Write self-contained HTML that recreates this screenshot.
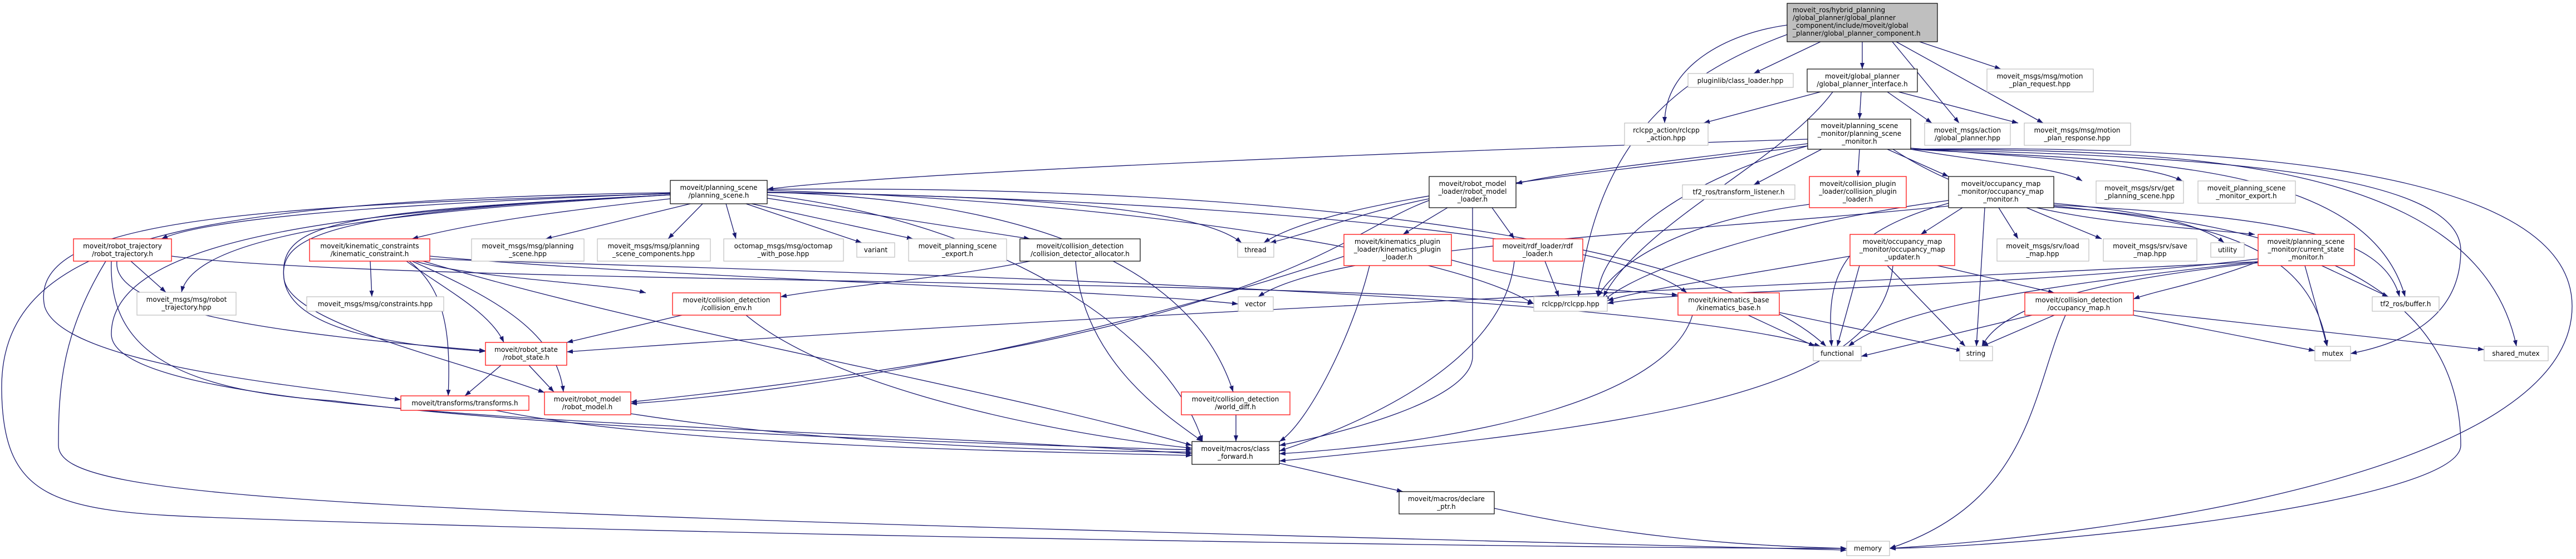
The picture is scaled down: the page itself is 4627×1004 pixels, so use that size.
<!DOCTYPE html>
<html><head><meta charset="utf-8">
<style>
html,body{margin:0;padding:0;background:#fff;}
svg{display:block;}
text{font-family:"DejaVu Sans","Liberation Sans",sans-serif;font-size:12px;fill:#000;}
.e{fill:none;stroke:#191970;stroke-width:1.3;marker-end:url(#a);}
.g{fill:#fff;stroke:#bfbfbf;stroke-width:1.2;}
.b{fill:#fff;stroke:#000;stroke-width:1.2;}
.r{fill:#fff;stroke:#ff2020;stroke-width:1.4;}
</style></head><body>
<svg width="4627" height="1004" viewBox="0 0 4627 1004" xmlns="http://www.w3.org/2000/svg">
<defs><marker id="a" markerUnits="userSpaceOnUse" markerWidth="12" markerHeight="10" refX="11" refY="4" orient="auto"><path d="M0,0 L11,4 L0,8 z" fill="#191970"/></marker></defs>
<g>
<!-- root -->
<path class="e" d="M3270,75 L3150,132"/>
<path class="e" d="M3345,75 L3345,124"/>
<path class="e" d="M3448,75 L3594,124"/>
<path class="e" d="M3399,75 L3519,221"/>
<path class="e" d="M3406,75 L3670,221"/>
<path class="e" d="M3210,45 C3100,60 2990,120 2990,221"/>
<path class="e" d="M3210,62 C3000,140 2870,260 2835,533"/>
<!-- gpi -->
<path class="e" d="M3270,165 L3060,221"/>
<path class="e" d="M3343,165 L3340,214"/>
<path class="e" d="M3390,165 L3470,221"/>
<path class="e" d="M3410,165 L3625,221"/>
<path class="e" d="M3292,165 C3200,290 2950,400 2880,533"/>
<!-- psm -->
<path class="e" d="M3247,250 C2600,270 1600,310 1378,340"/>
<path class="e" d="M3247,258 C3000,290 2800,310 2723,330"/>
<path class="e" d="M3272,268 L3150,332"/>
<path class="e" d="M3340,268 L3337,317"/>
<path class="e" d="M3390,268 L3500,317"/>
<path class="e" d="M3432,268 C3550,290 3700,300 3740,325"/>
<path class="e" d="M3432,266 C3600,280 3850,290 3920,325"/>
<path class="e" d="M3400,268 C3600,400 3850,400 4050,421"/>
<path class="e" d="M3432,268 C3800,290 4250,280 4320,533"/>
<path class="e" d="M3432,268 C3900,280 4420,300 4420,450 C4420,580 4300,620 4222,635"/>
<path class="e" d="M3432,268 C3900,270 4450,280 4520,622"/>
<path class="e" d="M3432,268 C4000,260 4620,300 4620,550 C4620,850 3800,960 3394,985"/>
<path class="e" d="M3247,262 C2900,310 2400,350 2270,436"/>
<path class="e" d="M3247,262 C3000,330 2870,450 2870,533"/>
<!-- ps -->
<path class="e" d="M1204,347 C900,360 400,380 290,429"/>
<path class="e" d="M1204,357 C1000,380 850,400 740,429"/>
<path class="e" d="M1240,366 L980,429"/>
<path class="e" d="M1262,366 L1200,429"/>
<path class="e" d="M1304,366 L1322,429"/>
<path class="e" d="M1340,366 L1548,436"/>
<path class="e" d="M1350,366 L1640,429"/>
<path class="e" d="M1378,356 L1850,429"/>
<path class="e" d="M1378,346 C1800,350 2150,370 2230,436"/>
<path class="e" d="M1204,350 C700,380 350,420 326,525"/>
<path class="e" d="M1204,350 C600,380 500,400 510,500 C520,590 700,620 872,631"/>
<path class="e" d="M1204,350 C600,380 500,420 510,500 C520,580 800,640 978,705"/>
<path class="e" d="M1204,348 C400,370 50,400 80,550 C110,650 500,690 720,718"/>
<path class="e" d="M1204,350 C600,380 200,430 200,600 C200,760 1400,760 2141,815"/>
<path class="e" d="M1204,346 C300,360 0,440 3,700 C5,900 100,920 400,930 C1200,960 2800,985 3317,985"/>
<path class="e" d="M1378,345 C1900,360 2150,500 2215,704"/>
<path class="e" d="M1378,342 C2000,360 2600,450 2755,546"/>
<path class="e" d="M1378,340 C2400,330 3100,450 3280,622"/>
<path class="e" d="M1378,345 C2200,360 2900,420 3030,526"/>
<path class="e" d="M1378,350 C1800,400 2100,600 2160,793"/>
<!-- rt -->
<path class="e" d="M235,469 L298,525"/>
<path class="e" d="M210,469 C200,560 500,600 872,630"/>
<path class="e" d="M190,469 C110,600 105,700 105,800 C105,900 600,920 3317,988"/>
<path class="e" d="M200,469 C195,620 300,700 600,720 C900,760 1500,790 2141,808"/>
<path class="e" d="M308,460 C700,510 2300,500 2755,545"/>
<!-- kc -->
<path class="e" d="M665,469 L668,533"/>
<path class="e" d="M730,469 C800,520 880,560 905,615"/>
<path class="e" d="M740,469 C900,540 1000,600 1012,704"/>
<path class="e" d="M735,469 C800,520 810,600 805,711"/>
<path class="e" d="M745,469 C850,500 1100,510 1160,526"/>
<path class="e" d="M760,469 C1200,600 1800,700 2141,800"/>
<path class="e" d="M772,460 C1200,500 2000,520 2224,546"/>
<path class="e" d="M772,465 C1500,490 2900,520 3270,622"/>
<!-- cda, cenv, rstate, etc -->
<path class="e" d="M1850,469 C1700,500 1500,515 1402,533"/>
<path class="e" d="M1932,469 C1945,650 2100,750 2160,793"/>
<path class="e" d="M1225,566 L1018,615"/>
<path class="e" d="M1340,566 C1500,700 1900,780 2141,805"/>
<path class="e" d="M900,656 L835,711"/>
<path class="e" d="M950,656 L995,704"/>
<path class="e" d="M890,737 C1200,800 1800,810 2141,818"/>
<path class="e" d="M1133,743 C1500,800 1900,810 2141,812"/>
<path class="e" d="M2220,745 L2220,793"/>
<path class="e" d="M2298,832 L2520,883"/>
<path class="e" d="M2684,913 C2900,960 3100,980 3317,985"/>
<!-- rml -->
<path class="e" d="M2600,373 L2520,421"/>
<path class="e" d="M2680,373 L2720,429"/>
<path class="e" d="M2645,373 L2645,640 C2645,720 2400,780 2298,800"/>
<path class="e" d="M2567,357 C2450,380 2350,420 2281,436"/>
<path class="e" d="M2567,360 C2400,420 2300,600 1133,722"/>
<!-- kpl, rdf, cpl -->
<path class="e" d="M2607,467 C2800,520 2900,520 3014,530"/>
<path class="e" d="M2460,477 C2430,600 2350,760 2298,793"/>
<path class="e" d="M2415,460 C2000,600 1500,700 1133,725"/>
<path class="e" d="M2775,469 L2800,533"/>
<path class="e" d="M2720,469 C2700,650 2450,760 2298,810"/>
<path class="e" d="M3250,367 C3000,400 2900,480 2870,533"/>
<!-- omm -->
<path class="e" d="M3525,373 L3450,421"/>
<path class="e" d="M3590,373 L3625,429"/>
<path class="e" d="M3640,373 L3775,429"/>
<path class="e" d="M3689,365 C3850,380 3950,400 3995,436"/>
<path class="e" d="M3565,373 L3550,622"/>
<path class="e" d="M3500,365 C3300,420 3280,500 3290,622"/>
<path class="e" d="M3500,360 C3200,400 2950,480 2880,540"/>
<path class="e" d="M3689,370 C4000,400 4150,450 4180,622"/>
<path class="e" d="M3689,368 C4100,390 4280,420 4310,533"/>
<path class="e" d="M3689,372 C4100,400 4420,500 4420,800 C4420,900 3700,980 3394,985"/>
<path class="e" d="M3500,370 C3000,420 2400,440 2260,533"/>
<!-- omu -->
<path class="e" d="M3480,477 L3690,526"/>
<path class="e" d="M3340,477 L3300,622"/>
<path class="e" d="M3390,477 L3530,622"/>
<path class="e" d="M3323,460 C3100,500 2950,520 2887,540"/>
<path class="e" d="M3400,477 C3380,700 3000,760 2298,828"/>
<!-- csm -->
<path class="e" d="M4056,470 C3500,500 2000,560 1018,632"/>
<path class="e" d="M4056,465 C3600,520 3000,520 2887,545"/>
<path class="e" d="M4140,477 L4180,622"/>
<path class="e" d="M4170,477 L4290,533"/>
<path class="e" d="M4056,470 C3600,520 3400,560 3320,622"/>
<path class="e" d="M4056,472 C3800,500 3600,540 3560,622"/>
<path class="e" d="M4056,470 C3950,510 3880,520 3832,537"/>
<!-- kb -->
<path class="e" d="M3140,566 L3260,622"/>
<path class="e" d="M3190,560 L3525,630"/>
<path class="e" d="M3040,566 C3000,700 2700,790 2298,815"/>
<!-- ocmap -->
<path class="e" d="M3650,566 L3343,640"/>
<path class="e" d="M3690,566 L3560,622"/>
<path class="e" d="M3832,566 L4158,630"/>
<path class="e" d="M3832,558 L4462,628"/>
<path class="e" d="M3710,566 C3650,700 3650,900 3394,985"/>
</g>
<g>
<!-- nodes -->
<rect x="3210" y="6" width="270" height="69" fill="#bfbfbf" stroke="#000" stroke-width="1.2"/>
<text x="3220" y="22">moveit_ros/hybrid_planning</text>
<text x="3220" y="36">/global_planner/global_planner</text>
<text x="3220" y="50">_component/include/moveit/global</text>
<text x="3220" y="64">_planner/global_planner_component.h</text>

<g text-anchor="middle">
<rect class="g" x="3032" y="132" width="189" height="25"/><text x="3126" y="149">pluginlib/class_loader.hpp</text>
<rect class="b" x="3246" y="124" width="198" height="41"/><text x="3345" y="141">moveit/global_planner</text><text x="3345" y="155">/global_planner_interface.h</text>
<rect class="g" x="3569" y="124" width="191" height="41"/><text x="3664" y="141">moveit_msgs/msg/motion</text><text x="3664" y="155">_plan_request.hpp</text>
<rect class="g" x="2918" y="221" width="150" height="40"/><text x="2993" y="238">rclcpp_action/rclcpp</text><text x="2993" y="252">_action.hpp</text>
<rect class="b" x="3247" y="214" width="185" height="54"/><text x="3340" y="230">moveit/planning_scene</text><text x="3340" y="244">_monitor/planning_scene</text><text x="3340" y="258">_monitor.h</text>
<rect class="g" x="3457" y="221" width="154" height="40"/><text x="3534" y="238">moveit_msgs/action</text><text x="3534" y="252">/global_planner.hpp</text>
<rect class="g" x="3636" y="221" width="191" height="40"/><text x="3731" y="238">moveit_msgs/msg/motion</text><text x="3731" y="252">_plan_response.hpp</text>
<rect class="g" x="3022" y="332" width="202" height="26"/><text x="3123" y="349">tf2_ros/transform_listener.h</text>
<rect class="r" x="3250" y="317" width="174" height="56"/><text x="3337" y="334">moveit/collision_plugin</text><text x="3337" y="348">_loader/collision_plugin</text><text x="3337" y="362">_loader.h</text>
<rect class="b" x="3500" y="317" width="189" height="56"/><text x="3594" y="334">moveit/occupancy_map</text><text x="3594" y="348">_monitor/occupancy_map</text><text x="3594" y="362">_monitor.h</text>
<rect class="g" x="3765" y="325" width="157" height="40"/><text x="3843" y="342">moveit_msgs/srv/get</text><text x="3843" y="356">_planning_scene.hpp</text>
<rect class="g" x="3948" y="325" width="175" height="40"/><text x="4035" y="342">moveit_planning_scene</text><text x="4035" y="356">_monitor_export.h</text>
<rect class="r" x="3323" y="421" width="188" height="56"/><text x="3417" y="438">moveit/occupancy_map</text><text x="3417" y="452">_monitor/occupancy_map</text><text x="3417" y="466">_updater.h</text>
<rect class="g" x="3587" y="429" width="165" height="40"/><text x="3669" y="446">moveit_msgs/srv/load</text><text x="3669" y="460">_map.hpp</text>
<rect class="g" x="3778" y="429" width="168" height="40"/><text x="3862" y="446">moveit_msgs/srv/save</text><text x="3862" y="460">_map.hpp</text>
<rect class="g" x="3971" y="436" width="60" height="26"/><text x="4001" y="453">utility</text>
<rect class="r" x="4056" y="421" width="173" height="56"/><text x="4142" y="438">moveit/planning_scene</text><text x="4142" y="452">_monitor/current_state</text><text x="4142" y="466">_monitor.h</text>
<rect class="r" x="3014" y="526" width="182" height="40"/><text x="3105" y="543">moveit/kinematics_base</text><text x="3105" y="557">/kinematics_base.h</text>
<rect class="g" x="3257" y="622" width="86" height="26"/><text x="3300" y="639">functional</text>
<rect class="g" x="3520" y="622" width="59" height="26"/><text x="3549" y="639">string</text>
<rect class="r" x="3637" y="526" width="195" height="40"/><text x="3734" y="543">moveit/collision_detection</text><text x="3734" y="557">/occupancy_map.h</text>
<rect class="g" x="4158" y="622" width="64" height="26"/><text x="4190" y="639">mutex</text>
<rect class="g" x="4462" y="622" width="115" height="26"/><text x="4519" y="639">shared_mutex</text>
<rect class="g" x="4261" y="533" width="120" height="26"/><text x="4321" y="550">tf2_ros/buffer.h</text>
<rect class="g" x="3317" y="972" width="77" height="26"/><text x="3355" y="989">memory</text>
<rect class="g" x="2224" y="533" width="63" height="26"/><text x="2255" y="550">vector</text>
<rect class="g" x="2755" y="533" width="132" height="26"/><text x="2821" y="550">rclcpp/rclcpp.hpp</text>
<rect class="r" x="2122" y="704" width="195" height="41"/><text x="2219" y="721">moveit/collision_detection</text><text x="2219" y="735">/world_diff.h</text>
<rect class="b" x="2141" y="793" width="157" height="41"/><text x="2219" y="810">moveit/macros/class</text><text x="2219" y="824">_forward.h</text>
<rect class="b" x="2513" y="883" width="171" height="40"/><text x="2598" y="900">moveit/macros/declare</text><text x="2598" y="914">_ptr.h</text>
<rect class="g" x="246" y="525" width="178" height="41"/><text x="335" y="542">moveit_msgs/msg/robot</text><text x="335" y="556">_trajectory.hpp</text>
<rect class="g" x="551" y="533" width="246" height="26"/><text x="674" y="550">moveit_msgs/msg/constraints.hpp</text>
<rect class="r" x="1208" y="526" width="194" height="40"/><text x="1305" y="543">moveit/collision_detection</text><text x="1305" y="557">/collision_env.h</text>
<rect class="r" x="872" y="615" width="146" height="41"/><text x="945" y="632">moveit/robot_state</text><text x="945" y="646">/robot_state.h</text>
<rect class="r" x="720" y="711" width="230" height="26"/><text x="835" y="728">moveit/transforms/transforms.h</text>
<rect class="r" x="978" y="704" width="155" height="41"/><text x="1055" y="721">moveit/robot_model</text><text x="1055" y="735">/robot_model.h</text>
<rect class="b" x="1204" y="324" width="174" height="42"/><text x="1291" y="341">moveit/planning_scene</text><text x="1291" y="355">/planning_scene.h</text>
<rect class="r" x="132" y="429" width="176" height="40"/><text x="220" y="446">moveit/robot_trajectory</text><text x="220" y="460">/robot_trajectory.h</text>
<rect class="r" x="556" y="429" width="216" height="40"/><text x="664" y="446">moveit/kinematic_constraints</text><text x="664" y="460">/kinematic_constraint.h</text>
<rect class="g" x="847" y="429" width="202" height="40"/><text x="948" y="446">moveit_msgs/msg/planning</text><text x="948" y="460">_scene.hpp</text>
<rect class="g" x="1073" y="429" width="203" height="40"/><text x="1174" y="446">moveit_msgs/msg/planning</text><text x="1174" y="460">_scene_components.hpp</text>
<rect class="g" x="1300" y="429" width="215" height="40"/><text x="1407" y="446">octomap_msgs/msg/octomap</text><text x="1407" y="460">_with_pose.hpp</text>
<rect class="g" x="1539" y="436" width="68" height="26"/><text x="1573" y="453">variant</text>
<rect class="g" x="1632" y="429" width="176" height="40"/><text x="1720" y="446">moveit_planning_scene</text><text x="1720" y="460">_export.h</text>
<rect class="b" x="1832" y="429" width="216" height="40"/><text x="1940" y="446">moveit/collision_detection</text><text x="1940" y="460">/collision_detector_allocator.h</text>
<rect class="g" x="2223" y="436" width="65" height="26"/><text x="2255" y="453">thread</text>
<rect class="r" x="2414" y="421" width="193" height="56"/><text x="2510" y="438">moveit/kinematics_plugin</text><text x="2510" y="452">_loader/kinematics_plugin</text><text x="2510" y="466">_loader.h</text>
<rect class="r" x="2682" y="429" width="161" height="40"/><text x="2762" y="446">moveit/rdf_loader/rdf</text><text x="2762" y="460">_loader.h</text>
<rect class="b" x="2567" y="317" width="156" height="56"/><text x="2645" y="334">moveit/robot_model</text><text x="2645" y="348">_loader/robot_model</text><text x="2645" y="362">_loader.h</text>
</g>
</g>
</svg>
</body></html>
